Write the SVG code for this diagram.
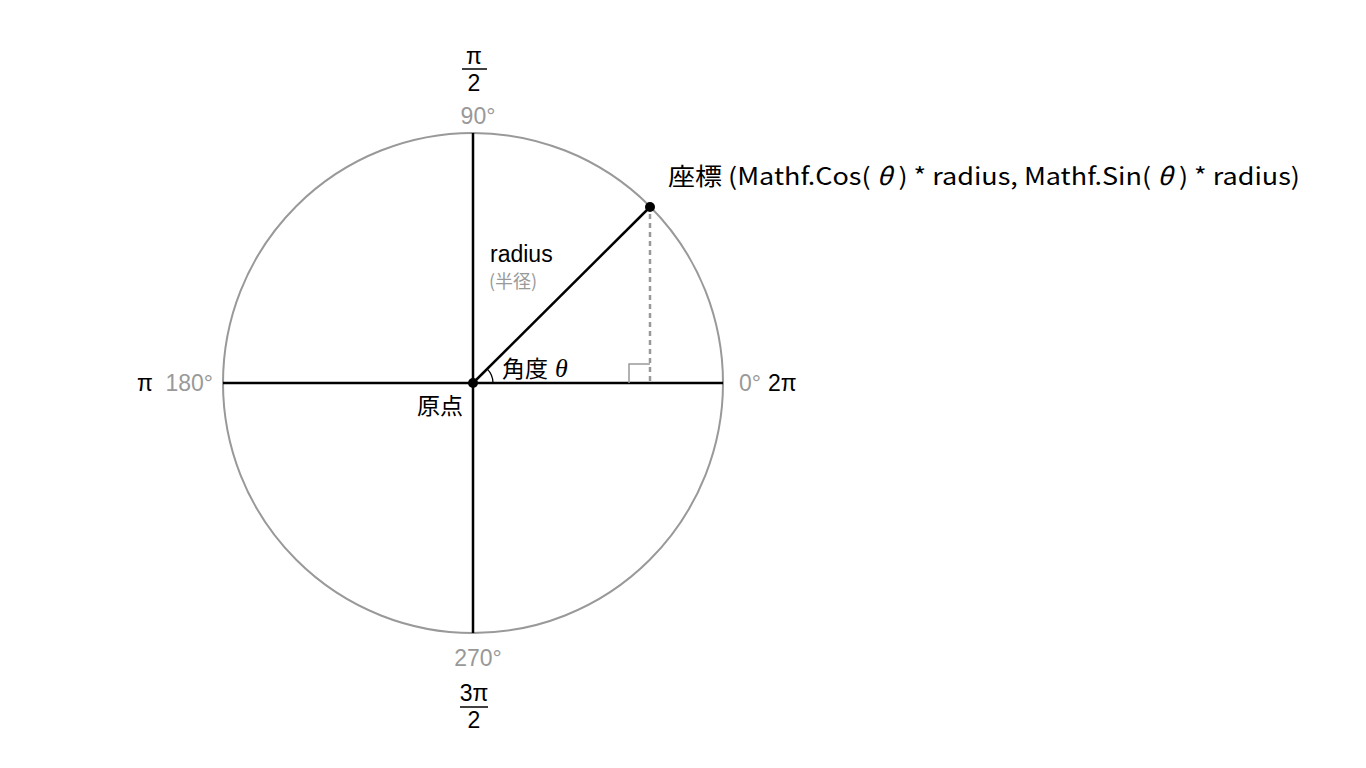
<svg xmlns="http://www.w3.org/2000/svg" width="1366" height="768" viewBox="0 0 1366 768">
<style>
text{font-family:"Liberation Sans","Noto Sans CJK JP",sans-serif;}
.blk{fill:#000;}
.gry{fill:#999;}
.lbl{font-size:23px;}
.jp{font-family:"Noto Sans CJK JP","Noto Sans",sans-serif;}
.ax{stroke:#000;stroke-width:2.5;fill:none;}
.circ{stroke:#999;stroke-width:2;fill:none;}
</style>
<rect width="1366" height="768" fill="#fff"/>
<g id="circle">
<circle class="circ" cx="473" cy="383" r="250"/>
</g>
<g id="connectors">
<line class="ax" x1="223" y1="383" x2="723" y2="383"/>
<line class="ax" x1="473" y1="133" x2="473" y2="633"/>
<line class="ax" x1="473" y1="383" x2="650" y2="207"/>
<line x1="650" y1="214" x2="650" y2="383" stroke="#999" stroke-width="2.5" stroke-dasharray="5,4"/>
<polyline points="629,383 629,364 650,364" fill="none" stroke="#999" stroke-width="1.5"/>
<path d="M493,383 A20,20 0 0 0 487.1,368.9" fill="none" stroke="#000" stroke-width="1.3"/>
</g>
<g id="origin">
<circle cx="473" cy="383" r="5" fill="#000"/>
<text class="jp blk" x="417" y="414" font-size="23">原点</text>
</g>
<g id="point">
<circle cx="650" cy="207" r="5" fill="#000"/>
<text class="jp blk" x="668" y="185" font-size="24" textLength="632" lengthAdjust="spacingAndGlyphs">座標 (Mathf.Cos(<tspan font-style="italic"> θ </tspan>) * radius, Mathf.Sin(<tspan font-style="italic"> θ </tspan>) * radius)</text>
</g>
<g id="radius-label">
<text class="blk" x="490" y="262" font-size="23">radius</text>
<text class="jp gry" x="489" y="288" font-size="18">(半径)</text>
</g>
<g id="angle-label">
<text class="jp blk" x="502" y="377" font-size="23">角度<tspan font-style="italic" font-family="Liberation Serif, serif" dx="7" font-size="26">θ</tspan></text>
</g>
<g id="top">
<text class="blk lbl" x="474" y="64" text-anchor="middle">π</text>
<line x1="462" y1="69" x2="487" y2="69" stroke="#000" stroke-width="1.5"/>
<text class="blk lbl" x="474" y="91" text-anchor="middle">2</text>
<text class="gry lbl" x="478" y="124" text-anchor="middle">90°</text>
</g>
<g id="left">
<text class="blk lbl" x="137" y="391">π</text>
<text class="gry lbl" x="213" y="391" text-anchor="end">180°</text>
</g>
<g id="right">
<text class="gry lbl" x="739" y="391">0°</text>
<text class="blk lbl" x="768" y="391">2π</text>
</g>
<g id="bottom">
<text class="gry lbl" x="478" y="666" text-anchor="middle">270°</text>
<text class="blk lbl" x="474" y="701" text-anchor="middle">3π</text>
<line x1="460" y1="707" x2="488" y2="707" stroke="#000" stroke-width="1.5"/>
<text class="blk lbl" x="474" y="728" text-anchor="middle">2</text>
</g>
</svg>
